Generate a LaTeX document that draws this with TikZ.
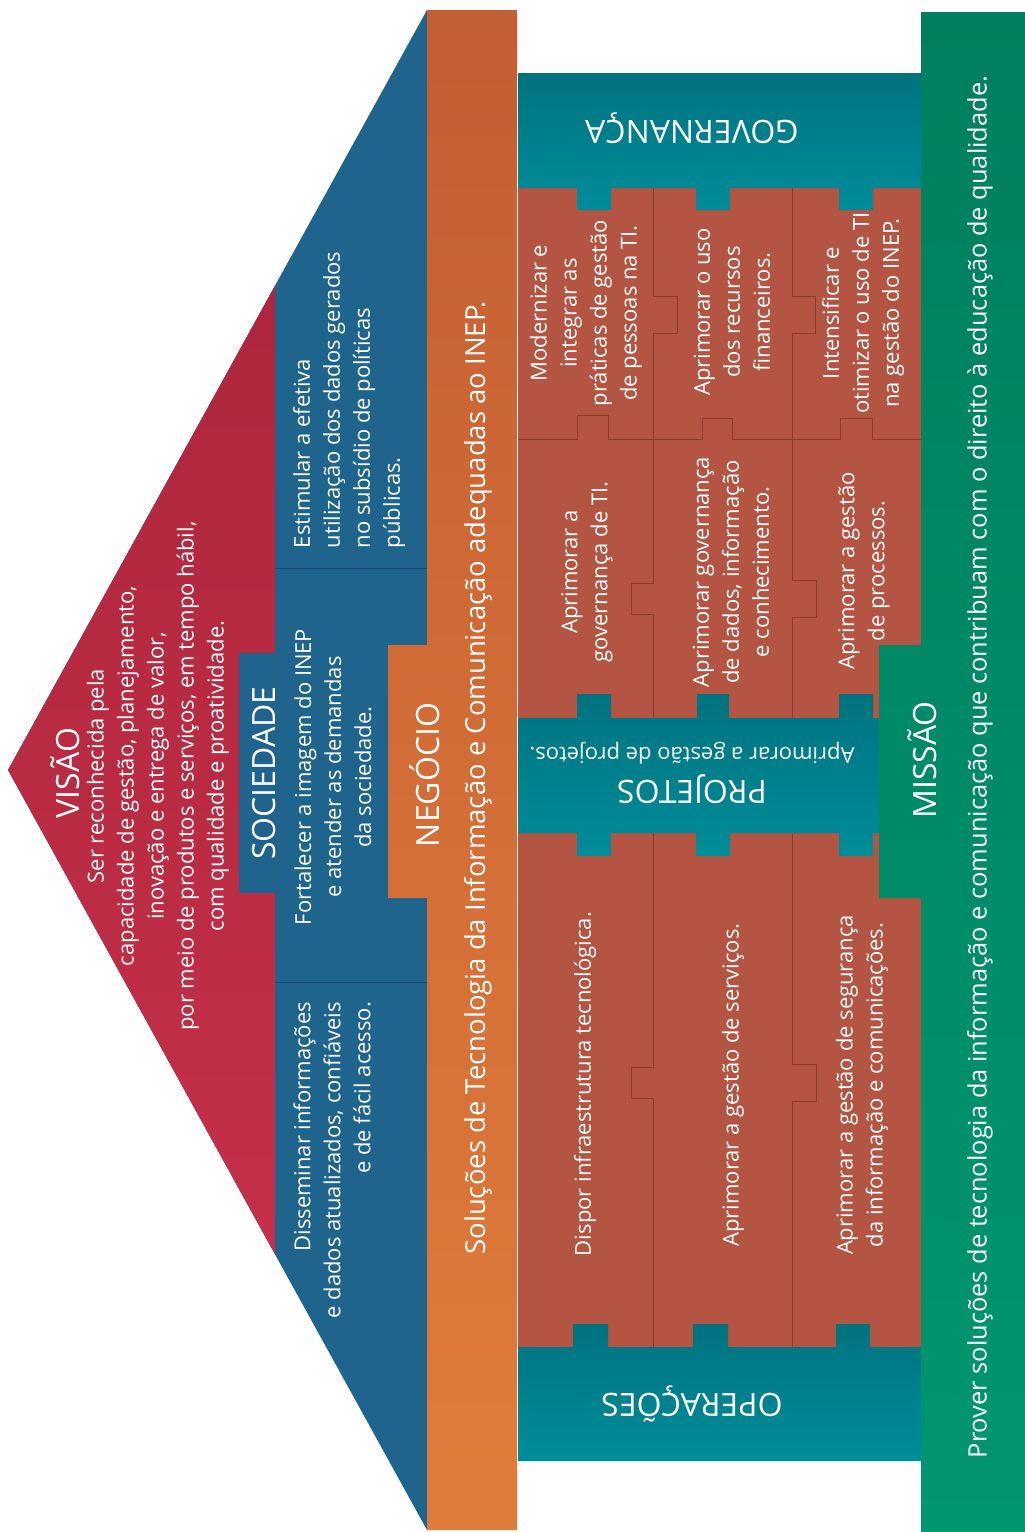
\documentclass[tikz,border=0pt]{standalone}
\usepackage{fontspec}
\setmainfont{Open Sans}
\definecolor{redA}{HTML}{AD273D}
\definecolor{redB}{HTML}{C52F49}
\definecolor{blueS}{HTML}{1E648C}
\definecolor{blueLine}{HTML}{164C6E}
\definecolor{orA}{HTML}{C45E33}
\definecolor{orB}{HTML}{E07C3B}
\definecolor{brick}{HTML}{B45442}
\definecolor{brickLine}{HTML}{8B3A2E}
\definecolor{tealA}{HTML}{007380}
\definecolor{tealB}{HTML}{008D99}
\definecolor{grA}{HTML}{007F5F}
\definecolor{grB}{HTML}{009670}
\tikzset{
  txt/.style={text=white, inner sep=0pt, outer sep=0pt},
  titlefont/.style={txt, font=\fontsize{32}{38}\selectfont},
  bodyfont/.style={txt, font=\fontsize{22}{30}\selectfont, align=center},
  bigfont/.style={txt, font=\fontsize{27.5}{32}\selectfont},
  misfont/.style={txt, font=\fontsize{25.4}{30}\selectfont},
  up/.style={rotate=90},
  flip/.style={rotate=180},
  teal/.style={top color=tealA, bottom color=tealB, draw=none},
  brickline/.style={draw=brickLine, line width=1pt},
}
\begin{document}
\begin{tikzpicture}[x=1pt,y=-1pt]
\useasboundingbox (0,0) rectangle (1025,1532);
% roof
\fill[blueS] (8,770) -- (427,10) -- (427,1530) -- cycle;
\shade[top color=redA, bottom color=redB] (8,770) -- (275,285.7) -- (275,1254.3) -- cycle;
\fill[blueS] (239,653) rectangle (275,893);
\draw[blueLine, line width=1pt] (275,568) -- (427,568);
\draw[blueLine, line width=1pt] (275,982) -- (427,982);
% negocio
\shade[top color=orA, bottom color=orB] (427,10) -- (517,10) -- (517,1530) -- (427,1530) -- (427,898) -- (388,898) -- (388,645) -- (427,645) -- cycle;
% bricks
\fill[brick] (518,188) rectangle (921,1347);
\draw[brickline] (518,439) -- (577,439) -- (577,415) -- (608,415) -- (608,439) -- (702,439) -- (702,418) -- (732,418) -- (732,439) -- (840,439) -- (840,418) -- (872,418) -- (872,439) -- (921,439);
\draw[brickline] (653,188) -- (653,296) -- (677,296) -- (677,333) -- (653,333) -- (653,583) -- (631,583) -- (631,614) -- (653,614) -- (653,718);
\draw[brickline] (792,188) -- (792,296) -- (815,296) -- (815,333) -- (792,333) -- (792,580) -- (816,580) -- (816,617) -- (792,617) -- (792,718);
\draw[brickline] (653,833) -- (653,1067) -- (631,1067) -- (631,1098) -- (653,1098) -- (653,1347);
\draw[brickline] (792,833) -- (792,1064) -- (816,1064) -- (816,1101) -- (792,1101) -- (792,1347);
% teal bars
\shade[teal] (518,73) -- (921,73) -- (921,188) -- (873,188) -- (873,210) -- (839,210) -- (839,188) -- (730,188) -- (730,210) -- (696,210) -- (696,188) -- (611,188) -- (611,210) -- (577,210) -- (577,188) -- (518,188) -- cycle;
\shade[teal] (518,718) -- (577,718) -- (577,694) -- (611,694) -- (611,718) -- (697,718) -- (697,694) -- (729,694) -- (729,718) -- (839,718) -- (839,694) -- (873,694) -- (873,718) -- (921,718) -- (921,833) -- (873,833) -- (873,856) -- (839,856) -- (839,833) -- (730,833) -- (730,856) -- (696,856) -- (696,833) -- (611,833) -- (611,856) -- (577,856) -- (577,833) -- (518,833) -- cycle;
\shade[teal] (518,1347) -- (573,1347) -- (573,1324) -- (608,1324) -- (608,1347) -- (693,1347) -- (693,1324) -- (728,1324) -- (728,1347) -- (836,1347) -- (836,1324) -- (870,1324) -- (870,1347) -- (921,1347) -- (921,1461) -- (518,1461) -- cycle;
% missao
\shade[top color=grA, bottom color=grB] (921,12) -- (1025,12) -- (1025,1532) -- (921,1532) -- (921,898) -- (879,898) -- (879,645) -- (921,645) -- cycle;
% texts
\node[titlefont, up] (visao) at (65,773) {VISÃO};
\node[bodyfont, up] (visaotxt) at (158,776) {Ser reconhecida pela\\capacidade de gestão, planejamento,\\inovação e entrega de valor,\\por meio de produtos e serviços, em tempo hábil,\\com qualidade e proatividade.};
\node[titlefont, up] (soc) at (264,773) {SOCIEDADE};
\node[bodyfont, up, align=left, anchor=west] (soc1) at (349,548) {Estimular a efetiva\\utilização dos dados gerados\\no subsídio de políticas\\públicas.};
\node[bodyfont, up] (soc2) at (333,777) {Fortalecer a imagem do INEP\\e atender as demandas\\da sociedade.};
\node[bodyfont, up, align=right, anchor=east] (soc3) at (332,1002) {Disseminar informações\\e dados atualizados, confiáveis\\e de fácil acesso.};
\node[titlefont, up] (neg) at (425,775) {NEGÓCIO};
\node[bigfont, up] (negtxt) at (478,778) {Soluções de Tecnologia da Informação e Comunicação adequadas ao INEP.};
\node[titlefont, flip] (gov) at (692,128) {GOVERNANÇA};
\node[bodyfont, up] (g1) at (586,313) {Modernizar e\\integrar as\\práticas de gestão\\de pessoas na TI.};
\node[bodyfont, up] (g2) at (732,312) {Aprimorar o uso\\dos recursos\\financeiros.};
\node[bodyfont, up] (g3) at (863,313) {Intensificar e\\otimizar o uso de TI\\na gestão do INEP.};
\node[bodyfont, up] (g4) at (587,572) {Aprimorar a\\governança de TI.};
\node[bodyfont, up] (g5) at (731,572) {Aprimorar governança\\de dados, informação\\e conhecimento.};
\node[bodyfont, up] (g6) at (864,571) {Aprimorar a gestão\\de processos.};
\node[titlefont, flip] (proj) at (692,789) {PROJETOS};
\node[bodyfont, flip] (projtxt) at (692,753) {Aprimorar a gestão de projetos.};
\node[bodyfont, up] (o1) at (585,1084) {Dispor infraestrutura tecnológica.};
\node[bodyfont, up] (o2) at (733,1085) {Aprimorar a gestão de serviços.};
\node[bodyfont, up] (o3) at (862,1085) {Aprimorar a gestão de segurança\\da informação e comunicações.};
\node[titlefont, flip] (oper) at (692,1404) {OPERAÇÕES};
\node[titlefont, up] (mis) at (922,760) {MISSÃO};
\node[misfont, up] (mistxt) at (980,767) {Prover soluções de tecnologia da informação e comunicação que contribuam com o direito à educação de qualidade.};
\end{tikzpicture}
\end{document}
